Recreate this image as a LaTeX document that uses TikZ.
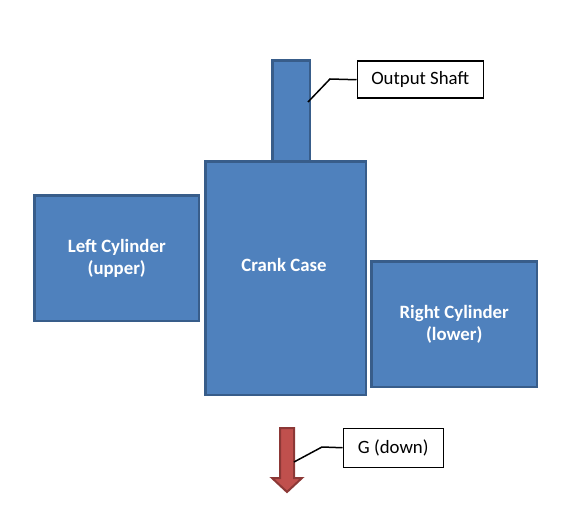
\documentclass[tikz,border=0pt]{standalone}
\usepackage{fontspec}
\setmainfont{Carlito}
\definecolor{boxfill}{HTML}{4F81BD}
\definecolor{boxline}{HTML}{385D8A}
\definecolor{arrfill}{HTML}{C0504D}
\definecolor{arrline}{HTML}{8C3836}
\tikzset{
  part/.style={draw=boxline, fill=boxfill, line width=2.5pt, inner sep=0pt, anchor=north west},
  parttext/.style={text=white, font=\fontsize{18.8}{22}\selectfont\bfseries, align=center},
  callbox/.style={draw=black, line width=1.5pt, fill=white, inner sep=0pt, anchor=north west, font=\fontsize{18.8}{22}\selectfont},
  callline/.style={draw=black, line width=1.5pt}
}
\begin{document}
\begin{tikzpicture}[x=1pt,y=-1pt]
\useasboundingbox (0,0) rectangle (570,521);
% output shaft
\node[part, minimum width=37.5pt, minimum height=102pt] (shaft) at (271.25,59.25) {};
% crank case
\node[part, minimum width=160.5pt, minimum height=233.5pt] (crank) at (204.25,160.25) {};
\node[parttext] (cranklbl) at (284,265) {Crank Case};
% cylinders
\node[part, minimum width=164.5pt, minimum height=125.5pt, parttext] (left) at (33.25,194.25) {Left Cylinder\\(upper)};
\node[part, minimum width=165.5pt, minimum height=125.5pt, parttext] (right) at (370.25,260.25) {Right Cylinder\\(lower)};
% gravity arrow
\draw[draw=arrline, fill=arrfill, line width=2pt, line join=miter]
  (280,428) -- (294,428) -- (294,478) -- (302,478) -- (287,492) -- (272,478) -- (280,478) -- cycle;
\coordinate (garrow) at (294,462);
% callouts
\node[callbox, minimum width=126pt, minimum height=37pt] (outbox) at (356.5,60.5) {Output Shaft};
\node[callbox, minimum width=100pt, minimum height=39pt] (gbox) at (342.5,427.5) {G (down)};
\coordinate (shaftpt) at (308,102);
\draw[callline] (shaftpt) -- (330,79) -- (outbox.west);
\draw[callline] (garrow) -- (322,447) -- (gbox.west);
\end{tikzpicture}
\end{document}
